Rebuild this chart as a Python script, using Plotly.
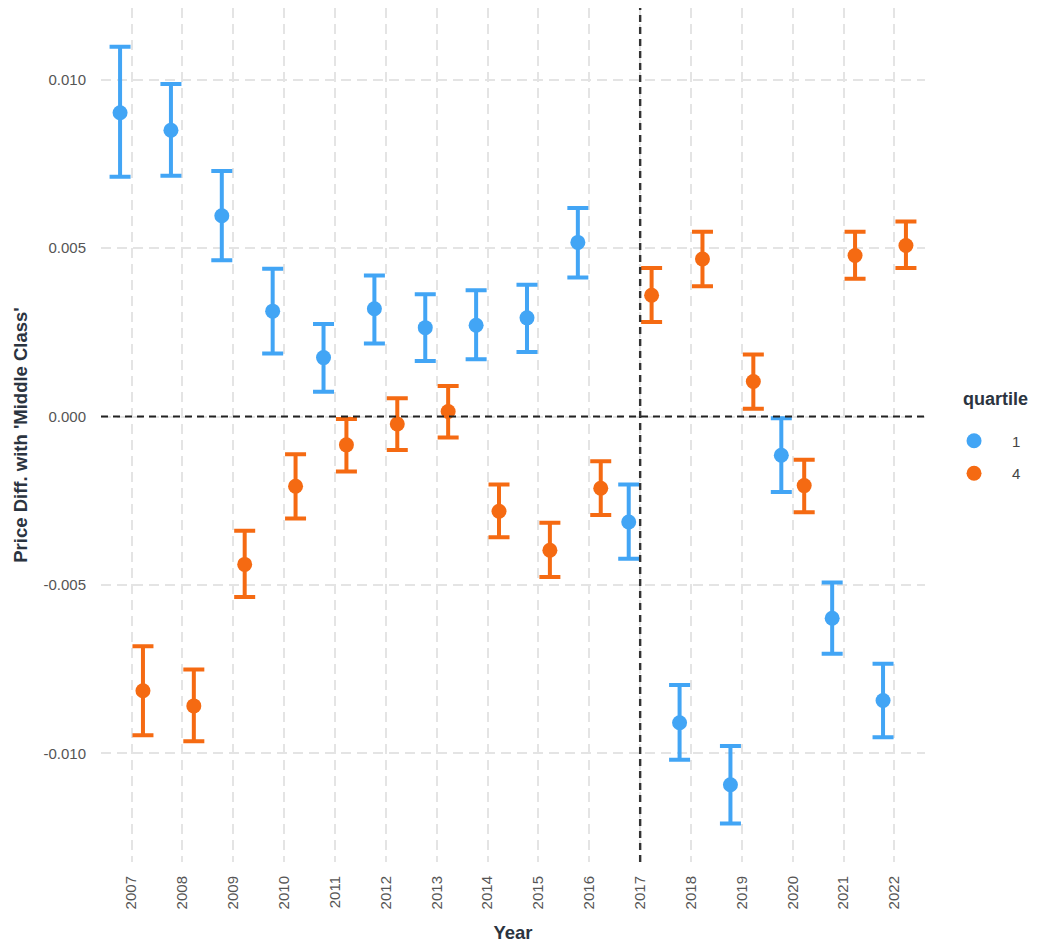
import plotly.graph_objects as go

years = list(range(2007, 2023))

q1_est = [0.00902, 0.00850, 0.00596, 0.00313, 0.00175, 0.00320, 0.00264, 0.00271,
          0.00293, 0.00517, -0.00313, -0.00909, -0.01093, -0.00115, -0.00599, -0.00843]
q1_hi = [0.01098, 0.00987, 0.00729, 0.00439, 0.00275, 0.00419, 0.00363, 0.00375,
         0.00391, 0.00619, -0.00202, -0.00797, -0.00978, -0.00005, -0.00493, -0.00734]
q1_lo = [0.00712, 0.00715, 0.00464, 0.00187, 0.00074, 0.00217, 0.00165, 0.00170,
         0.00192, 0.00413, -0.00422, -0.01019, -0.01208, -0.00224, -0.00704, -0.00952]

q4_est = [-0.00814, -0.00859, -0.00439, -0.00207, -0.00084, -0.00022, 0.00015, -0.00281,
          -0.00397, -0.00213, 0.00360, 0.00468, 0.00104, -0.00205, 0.00478, 0.00508]
q4_hi = [-0.00682, -0.00751, -0.00339, -0.00112, -0.00007, 0.00054, 0.00091, -0.00202,
         -0.00315, -0.00133, 0.00441, 0.00549, 0.00184, -0.00128, 0.00549, 0.00579]
q4_lo = [-0.00946, -0.00964, -0.00536, -0.00303, -0.00163, -0.00099, -0.00062, -0.00358,
         -0.00476, -0.00292, 0.00281, 0.00387, 0.00023, -0.00284, 0.00409, 0.00441]

y_tickvals = [-0.010, -0.005, 0.000, 0.005, 0.010]
y_ticktext = ["-0.010", "-0.005", "0.000", "0.005", "0.010"]
x_ticktext = [str(y) for y in years]

BLUE = "#42A5F5"
ORANGE = "#F56A12"
DODGE = 0.225
TITLE_COLOR = "#2b3440"
GRID = "#E4E4E4"

fig = go.Figure()

def add_series(est, hi, lo, offset, color, name):
    fig.add_trace(go.Scatter(
        x=[y + offset for y in years],
        y=est,
        mode="markers",
        name=name,
        legendgroup=name,
        marker=dict(color=color, size=15, line=dict(width=0)),
        error_y=dict(
            type="data", symmetric=False,
            array=[h - e for h, e in zip(hi, est)],
            arrayminus=[e - l for e, l in zip(est, lo)],
            color=color, thickness=4, width=10.5,
        ),
    ))

add_series(q1_est, q1_hi, q1_lo, -DODGE, BLUE, "1")
add_series(q4_est, q4_hi, q4_lo, DODGE, ORANGE, "4")

fig.add_shape(type="line", xref="paper", yref="y", x0=0, x1=1, y0=0, y1=0,
              line=dict(color="#222222", width=2, dash="7px,5px"), layer="above")
fig.add_shape(type="line", xref="x", yref="paper", x0=2017, x1=2017, y0=0, y1=1,
              line=dict(color="#333333", width=2.4, dash="7px,5px"), layer="above")

fig.add_annotation(
    text="<b>quartile</b>", xref="paper", yref="paper",
    x=1.044, y=0.542, xanchor="left", yanchor="middle", showarrow=False,
    font=dict(size=18, color=TITLE_COLOR),
)

fig.update_layout(
    width=1037, height=945,
    margin=dict(l=93, r=120, t=0, b=91),
    paper_bgcolor="white", plot_bgcolor="white",
    font=dict(family="Liberation Sans, Arial, sans-serif", color="#555555", size=15),
    showlegend=True,
    legend=dict(
        x=1.0134, xanchor="left", y=0.4742, yanchor="middle",
        font=dict(size=15, color="#444444"),
        bgcolor="rgba(0,0,0,0)",
        traceorder="grouped", tracegroupgap=10,
        itemwidth=66,
    ),
    xaxis=dict(
        range=[2006.4, 2022.6],
        tickmode="array", tickvals=years, ticktext=x_ticktext,
        tickangle=-90,
        showgrid=True, gridcolor=GRID, gridwidth=1.5, griddash="10px,6px",
        zeroline=False, showline=False, ticks="",
        automargin=False, ticklabelstandoff=10,
        title=dict(text="<b>Year</b>", font=dict(size=18.5, color=TITLE_COLOR), standoff=17),
        tickfont=dict(size=15, color="#555555"),
    ),
    yaxis=dict(
        range=[-0.013225, 0.01213],
        tickmode="array", tickvals=y_tickvals, ticktext=y_ticktext,
        showgrid=True, gridcolor=GRID, gridwidth=1.5, griddash="10px,6px",
        zeroline=False, showline=False, ticks="",
        automargin=False, ticklabelstandoff=14,
        title=dict(text="<b>Price Diff. with 'Middle Class'</b>", font=dict(size=18.5, color=TITLE_COLOR), standoff=10),
        tickfont=dict(size=15, color="#555555"),
    ),
)

fig.write_html("out.html")
